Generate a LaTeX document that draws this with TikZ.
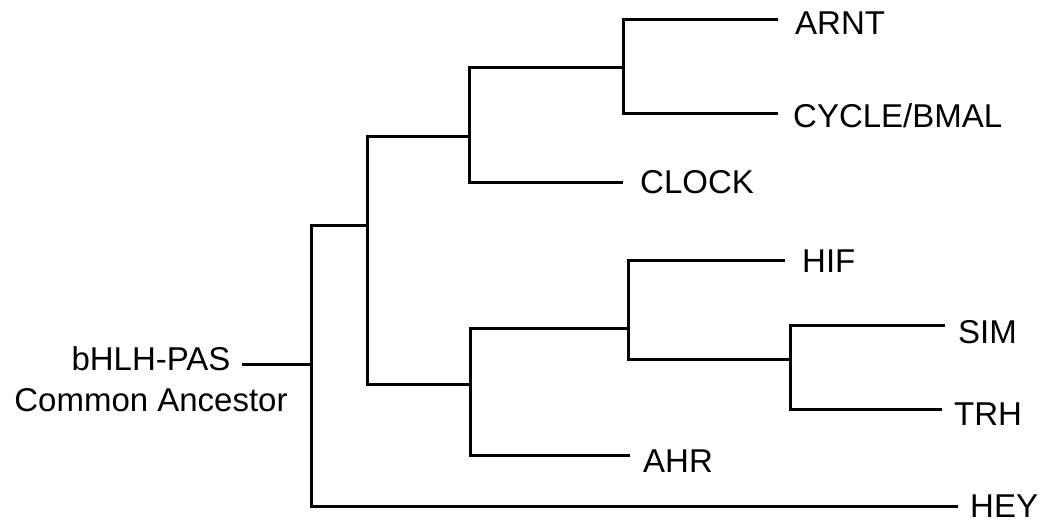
\documentclass[tikz,border=0pt]{standalone}
\usepackage{fontspec}
\setmainfont{Liberation Sans}
\begin{document}
\begin{tikzpicture}[x=1pt,y=-1pt,
  branch/.style={line width=3pt, line join=miter, line cap=butt, black},
  lab/.style={anchor=base west, inner sep=0pt, font=\fontsize{33}{41}\selectfont}]
\useasboundingbox (0,0) rectangle (1045,523);
% internal nodes
\coordinate (anc) at (242,364);
\coordinate (r)  at (311,364);
\coordinate (n1) at (367,225);
\coordinate (n2) at (469,136);
\coordinate (n3) at (623,67);
\coordinate (n4) at (470,384);
\coordinate (n5) at (628,328);
\coordinate (n6) at (790,359);
% branch tips
\coordinate (tARNT)  at (778,19);
\coordinate (tCYCLE) at (778,113);
\coordinate (tCLOCK) at (623,182);
\coordinate (tHIF)   at (785,260);
\coordinate (tSIM)   at (945,325);
\coordinate (tTRH)   at (942,409);
\coordinate (tAHR)   at (630,455);
\coordinate (tHEY)   at (958,506);
% labels
\node[anchor=base, align=center, inner sep=0pt, font=\fontsize{33}{41}\selectfont] (root) at (151,411) {bHLH-PAS\\Common Ancestor};
\node[lab] (ARNT)  at (795,34)  {ARNT};
\node[lab] (CYCLE) at (793,127) {CYCLE/BMAL};
\node[lab] (CLOCK) at (640,193) {CLOCK};
\node[lab] (HIF)   at (802,272) {HIF};
\node[lab] (SIM)   at (958,343) {SIM};
\node[lab] (TRH)   at (954,425) {TRH};
\node[lab] (AHR)   at (643,472) {AHR};
\node[lab, text depth=0pt] (HEY) at (970,517) {HEY};
% branches
\draw[branch] (anc) -- (r);
\draw[branch] (n1) -| (r);
\draw[branch] (tHEY) -| (r);
\draw[branch] (n2) -| (n1);
\draw[branch] (n4) -| (n1);
\draw[branch] (n3) -| (n2);
\draw[branch] (tCLOCK) -| (n2);
\draw[branch] (tARNT) -| (n3);
\draw[branch] (tCYCLE) -| (n3);
\draw[branch] (n5) -| (n4);
\draw[branch] (tAHR) -| (n4);
\draw[branch] (tHIF) -| (n5);
\draw[branch] (n6) -| (n5);
\draw[branch] (tSIM) -| (n6);
\draw[branch] (tTRH) -| (n6);
\end{tikzpicture}
\end{document}
